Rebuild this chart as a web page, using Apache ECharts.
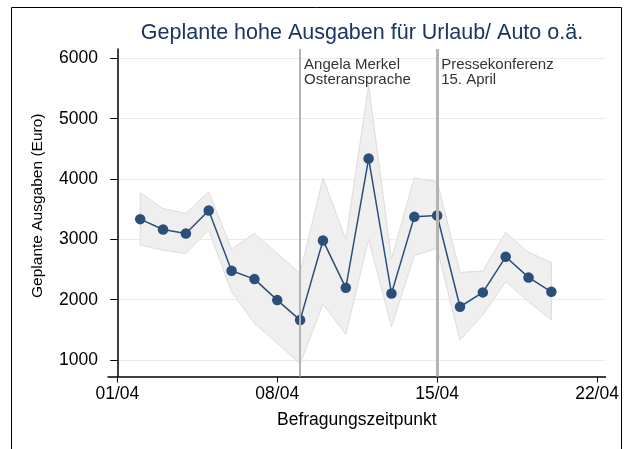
<!DOCTYPE html>
<html><head><meta charset="utf-8">
<script src="https://cdn.jsdelivr.net/npm/echarts@6/dist/echarts.min.js"></script>
<style>html,body{margin:0;padding:0;background:#fff}#c{width:628px;height:449px}</style>
</head><body><div id="c"></div>
<script>
const dates = ["02/04","03/04","04/04","05/04","06/04","07/04","08/04","09/04","10/04","11/04","12/04","13/04","14/04","15/04","16/04","17/04","18/04","19/04","20/04"];
const mean  = [3335,3164,3098,3478,2479,2341,1993,1662,2982,2197,4339,2104,3373,3395,1883,2121,2711,2369,2131];
const upper = [3776,3511,3429,3789,2840,3100,2768,2437,4021,3000,5557,2674,4021,3955,2453,2475,3116,2785,2619];
const lower = [2904,2821,2766,3154,2132,1608,1277,934,1928,1426,3005,1552,2729,2851,1331,1746,2298,1966,1663];
const xTickLabels = ["01/04","08/04","15/04","22/04"];
const yTicks = [1000,2000,3000,4000,5000,6000];
const events = [{date:"09/04", text:"Angela Merkel\nOsteransprache", w:2},{date:"15/04", text:"Pressekonferenz\n15. April", w:3}];

const dayIdx = s => parseInt(s.slice(0,2),10) - 1;
const xs = dates.map(dayIdx);
const xTicks = xTickLabels.map(dayIdx);
const lineData = xs.map((x,i)=>[x, mean[i]]);

const chart = echarts.init(document.getElementById('c'));
const FONT = 'Liberation Sans, Arial, sans-serif';
const border = {type:'rect', shape:{x:11.5,y:7.5,width:610,height:460}, style:{fill:null, stroke:'#000', lineWidth:1}, silent:true};
chart.setOption({
  animation:false,
  title:{text:'Geplante hohe Ausgaben für Urlaub/ Auto o.ä.', left:357, textAlign:'center', top:17,
    textStyle:{fontFamily:FONT, fontSize:21.5, fontWeight:'normal', color:'#1c3461'}},
  grid:{left:108, right:22.5, top:49, bottom:72.5},
  xAxis:{type:'value', min:-0.41, max:21.37,
    name:'Befragungszeitpunkt', nameLocation:'middle', nameGap:35,
    nameTextStyle:{fontFamily:FONT, fontSize:17.5, color:'#000'},
    axisLine:{lineStyle:{color:'#000', width:1.5}},
    axisTick:{show:true, length:6, customValues:xTicks, lineStyle:{color:'#000'}},
    axisLabel:{customValues:xTicks, fontFamily:FONT, fontSize:17.5, color:'#000', margin:9,
      formatter:v=>xTickLabels[xTicks.indexOf(Math.round(v))] || ''},
    splitLine:{show:false}},
  yAxis:{type:'value', min:727, max:6155,
    name:'Geplante Ausgaben (Euro)', nameLocation:'middle', nameGap:62,
    nameTextStyle:{fontFamily:FONT, fontSize:15.5, color:'#000', padding:[0,0,0,14]},
    axisLine:{show:true, lineStyle:{color:'#000', width:1.5}},
    axisTick:{show:true, length:7, customValues:yTicks, lineStyle:{color:'#000'}},
    axisLabel:{customValues:yTicks, fontFamily:FONT, fontSize:17.5, color:'#000', margin:10,
      formatter:v=>String(v)},
    splitLine:{show:true, lineStyle:{color:'#e3ecee', width:1}}},
  series:[
    {type:'custom', silent:true, z:1, data:[[0]],
      renderItem:(params, api)=>{
        const pts = [];
        for(let i=0;i<xs.length;i++) pts.push(api.coord([xs[i], upper[i]]));
        for(let i=xs.length-1;i>=0;i--) pts.push(api.coord([xs[i], lower[i]]));
        return {type:'polygon', shape:{points:pts}, style:{fill:'#efefef', stroke:'#dcdcdc', lineWidth:1}};
      }},
    {type:'line', z:3, data:lineData, symbol:'circle', symbolSize:10.5,
      lineStyle:{color:'#2b4f78', width:1.5}, itemStyle:{color:'#2b4f78'},
      markLine:{silent:true, symbol:'none', label:{show:false},
        data: events.map(e=>({xAxis:dayIdx(e.date), lineStyle:{color:'#b4b4b4', width:e.w, type:'solid'}}))}}
  ]
});
const texts = events.map(e=>{
  const p = chart.convertToPixel({xAxisIndex:0, yAxisIndex:0}, [dayIdx(e.date), 6000]);
  return {type:'text', left:p[0]+4, top:57, style:{text:e.text, font:'15px '+FONT, fill:'#333', lineHeight:15.5}, silent:true};
});
chart.setOption({graphic:[border].concat(texts)});
</script></body></html>
